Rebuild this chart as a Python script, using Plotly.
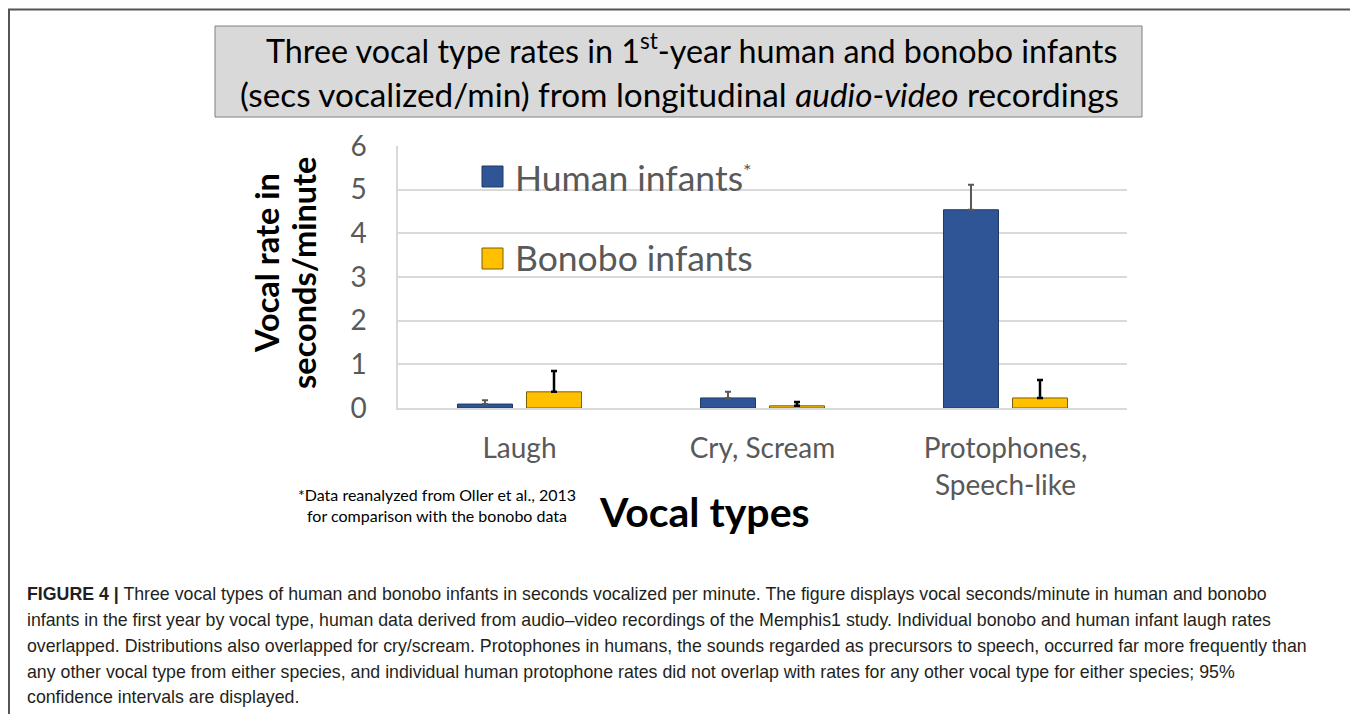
import plotly.graph_objects as go

# Page body has an 8px default margin; the figure is sized and positioned so the
# visible window matches a 1358x714 reference.
OFF = 8
W, H = 1358 - OFF, 714 - OFF

categories = ["Laugh", "Cry, Scream", "Protophones,<br>Speech-like"]
human_values = [0.09, 0.23, 4.54]
human_err = [0.09, 0.14, 0.57]
bonobo_values = [0.37, 0.05, 0.23]
bonobo_err = [0.48, 0.09, 0.41]
y_ticks = [0, 1, 2, 3, 4, 5, 6]

title_line1 = "Three vocal type rates in 1<sup>st</sup>-year human and bonobo infants"
title_line2 = "(secs vocalized/min) from longitudinal <i>audio-video</i> recordings"
legend_human = "Human infants"
legend_bonobo = "Bonobo infants"
y_title_line1 = "Vocal rate in"
y_title_line2 = "seconds/minute"
x_title = "Vocal types"
footnote = "*Data reanalyzed from Oller et al., 2013<br>for comparison with the bonobo data"
caption_lines = [
    "<b>FIGURE 4 |</b> Three vocal types of human and bonobo infants in seconds vocalized per minute. The figure displays vocal seconds/minute in human and bonobo",
    "infants in the first year by vocal type, human data derived from audio\u2013video recordings of the Memphis1 study. Individual bonobo and human infant laugh rates",
    "overlapped. Distributions also overlapped for cry/scream. Protophones in humans, the sounds regarded as precursors to speech, occurred far more frequently than",
    "any other vocal type from either species, and individual human protophone rates did not overlap with rates for any other vocal type for either species; 95%",
    "confidence intervals are displayed.",
]

BLUE = "#2F5597"
GOLD = "#FFC000"
FONT = "Lato"


def px(x):
    return (x - OFF) / W


def py(y):
    return 1 - (y - OFF) / H


fig = go.Figure()
fig.add_trace(go.Bar(
    x=categories, y=human_values, name="Human infants",
    marker=dict(color=BLUE, line=dict(color="#1F3864", width=1)),
    error_y=dict(type="data", symmetric=False, array=human_err,
                 arrayminus=[0, 0, 0], color="#595959", thickness=2, width=3),
    showlegend=False,
))
fig.add_trace(go.Bar(
    x=categories, y=bonobo_values, name="Bonobo infants",
    marker=dict(color=GOLD, line=dict(color="#7F6000", width=1)),
    error_y=dict(type="data", symmetric=False, array=bonobo_err,
                 arrayminus=[0, 0, 0], color="#000000", thickness=2.5, width=3),
    showlegend=False,
))

shapes = [
    # outer frame
    dict(type="rect", xref="paper", yref="paper", x0=px(9), x1=px(1356),
         y0=py(730), y1=py(9.5), line=dict(color="#555555", width=2),
         fillcolor="rgba(0,0,0,0)", layer="below"),
    # title box
    dict(type="rect", xref="paper", yref="paper", x0=px(215), x1=px(1142),
         y0=py(117), y1=py(26), line=dict(color="#808080", width=1),
         fillcolor="#D9D9D9", layer="below"),
    # legend swatches
    dict(type="rect", xref="paper", yref="paper", x0=px(482), x1=px(503),
         y0=py(187), y1=py(166), line=dict(color="#1F3864", width=1),
         fillcolor=BLUE),
    dict(type="rect", xref="paper", yref="paper", x0=px(482), x1=px(503),
         y0=py(269), y1=py(248), line=dict(color="#7F6000", width=1),
         fillcolor=GOLD),
]

C, M = "center", "middle"
annotations = [
    dict(text=title_line1, x=px(691), y=py(49), xanchor=C, yanchor=M,
         font=dict(family=FONT, size=32.3, color="#000000")),
    dict(text=title_line2, x=px(679), y=py(94), xanchor=C, yanchor=M,
         font=dict(family=FONT, size=33.3, color="#000000")),
    dict(text=legend_human, x=px(513), y=py(177), xanchor="left", yanchor=M,
         font=dict(family=FONT, size=35.5, color="#595959")),
    dict(text="*", x=px(741), y=py(170), xanchor="left", yanchor=M,
         font=dict(family=FONT, size=20, color="#595959")),
    dict(text=legend_bonobo, x=px(513), y=py(258), xanchor="left", yanchor=M,
         font=dict(family=FONT, size=35.5, color="#595959")),
    dict(text=y_title_line1, x=px(266), y=py(263), textangle=-90, xanchor=C, yanchor=M,
         font=dict(family=FONT, size=32.5, color="#000000", weight="bold")),
    dict(text=y_title_line2, x=px(303), y=py(273), textangle=-90, xanchor=C, yanchor=M,
         font=dict(family=FONT, size=32.5, color="#000000", weight="bold")),
    dict(text=x_title, x=px(704), y=py(511), xanchor=C, yanchor=M,
         font=dict(family=FONT, size=41, color="#000000", weight="bold")),
    dict(text=footnote, x=px(437), y=py(505), xanchor=C, yanchor=M,
         font=dict(family=FONT, size=16, color="#000000")),
]

caption_y = [594, 620, 646, 672, 697]
for line, yy in zip(caption_lines, caption_y):
    annotations.append(dict(text=line, x=px(25), y=py(yy), xanchor="left",
                            yanchor=M,
                            font=dict(family="Liberation Sans, Arial",
                                      size=17.75, color="#231F20")))

for a in annotations:
    a.setdefault("xref", "paper")
    a.setdefault("yref", "paper")
    a.setdefault("showarrow", False)

fig.update_layout(
    width=W, height=H, autosize=False,
    margin=dict(l=0, r=0, t=0, b=0, pad=0),
    paper_bgcolor="white", plot_bgcolor="white",
    barmode="group", bargap=0.432, bargroupgap=0.203,
    shapes=shapes, annotations=annotations,
    xaxis=dict(domain=[px(398), px(1127)], range=[-0.5, 2.5], automargin=False,
               showline=True, linecolor="#D9D9D9", linewidth=1.5,
               showgrid=False, ticks="", ticklabelstandoff=15,
               tickfont=dict(family=FONT, size=28, color="#595959")),
    yaxis=dict(domain=[py(408), py(146)], range=[0, 6], tickvals=y_ticks,
               automargin=False,
               showline=True, linecolor="#D9D9D9", linewidth=1.5,
               showgrid=True, gridcolor="#D9D9D9", gridwidth=1.5,
               zeroline=False, ticks="", ticklabelstandoff=24,
               tickfont=dict(family=FONT, size=28, color="#595959")),
    font=dict(family=FONT),
)

fig.write_html("out.html")
